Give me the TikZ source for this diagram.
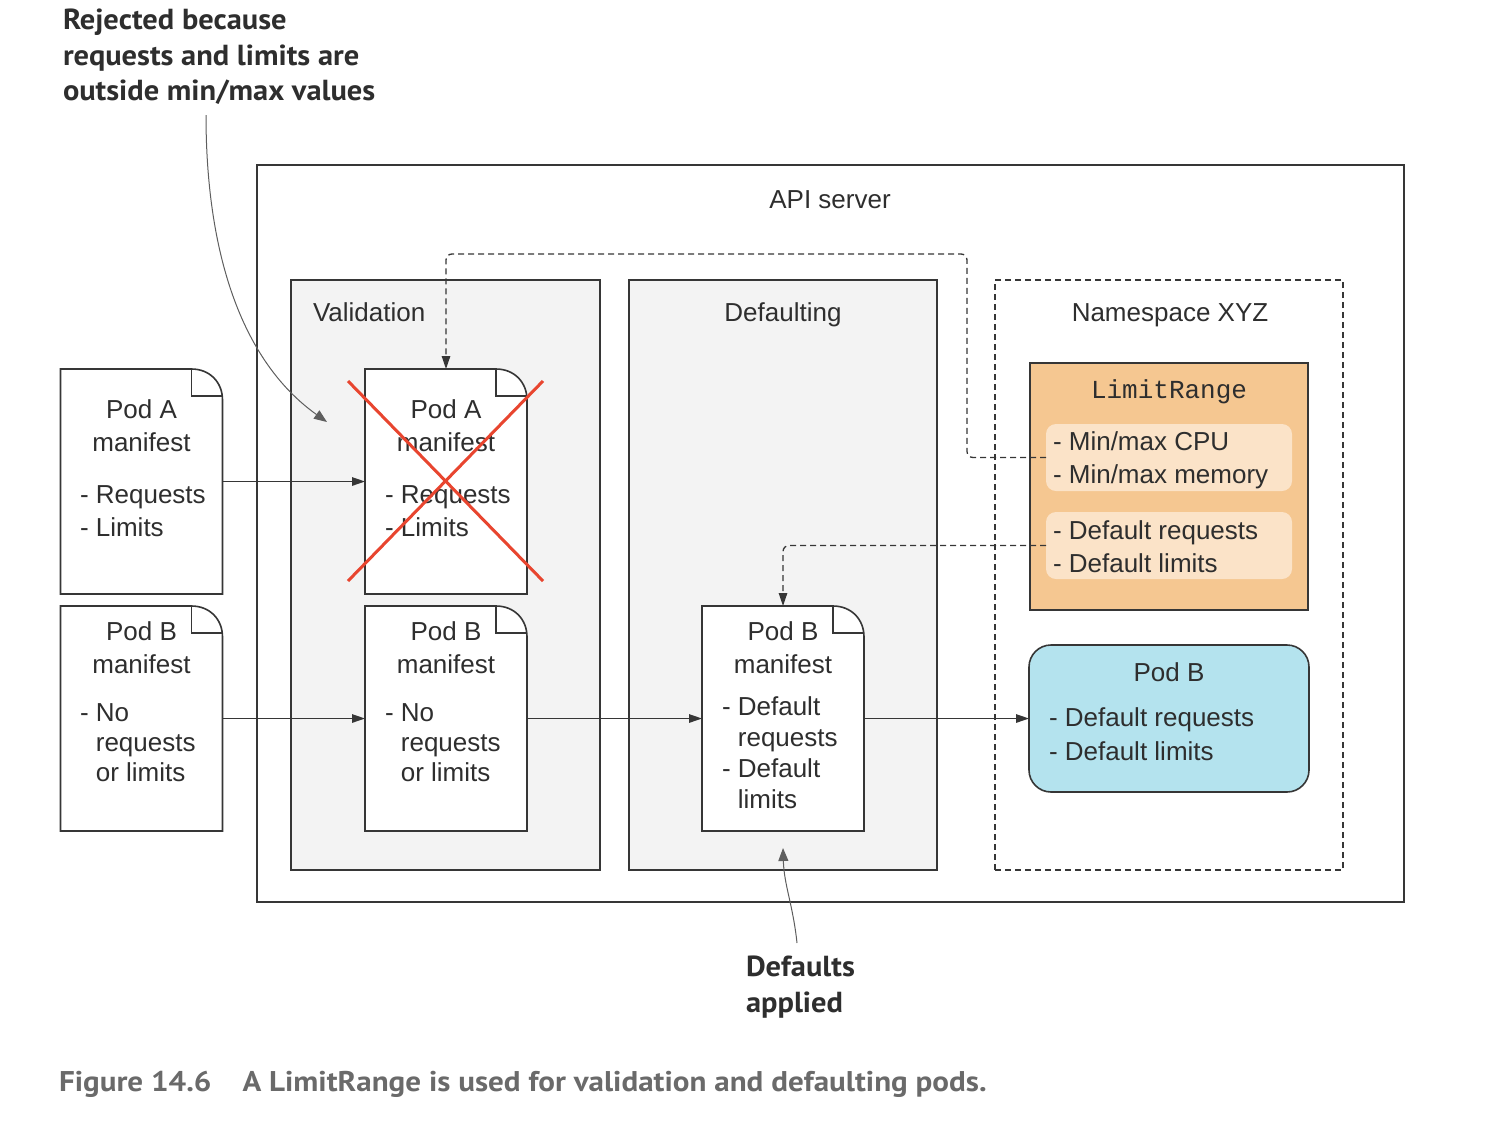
\documentclass[tikz,border=0pt]{standalone}
\usepackage{fontspec}
\setmainfont{Liberation Sans}
\newfontfamily\monof{Liberation Mono}
\newfontfamily\annof[FakeStretch=1.05]{PT Sans}
\newfontfamily\capf[FakeStretch=1.09]{PT Sans}
\usetikzlibrary{arrows.meta}
\definecolor{ink}{HTML}{2E2E2E}
\definecolor{line}{HTML}{363636}
\definecolor{panelgray}{HTML}{F3F3F3}
\definecolor{lrfill}{HTML}{F5C791}
\definecolor{lrinner}{HTML}{FBE3C8}
\definecolor{podblue}{HTML}{B4E3EE}
\definecolor{xred}{HTML}{E8452F}
\definecolor{capgray}{HTML}{6A6A6A}
\newcommand\docoutline[1]{%
  \draw[frame,fill=white] (#1.south west) -- (#1.north west) -- ([xshift=-31pt]#1.north east)
    .. controls ([xshift=-13pt]#1.north east) and ([yshift=-13pt]#1.north east) .. ([yshift=-31pt]#1.north east)
    -- (#1.south east) -- cycle;
  \draw[frame] ([xshift=-31pt]#1.north east) -- ([xshift=-31pt,yshift=-27pt]#1.north east) -- ([xshift=-1pt,yshift=-27pt]#1.north east);}
\begin{document}
\begin{tikzpicture}[x=1pt,y=-1pt,
  every node/.style={inner sep=0pt,outer sep=0pt},
  frame/.style={draw=line,line width=1.6pt},
  panel/.style={frame,fill=panelgray},
  conn/.style={draw=line,line width=1.3pt,-{Triangle[length=13pt,width=8.5pt]}},
  dconn/.style={conn,dash pattern=on 6pt off 4pt},
  note/.style={draw=line!80,line width=1pt,-{Triangle[length=13pt,width=10pt]}},
  txt/.style={text=ink,font=\fontsize{26}{33}\selectfont},
  lst/.style={text=ink,font=\fontsize{26}{30}\selectfont,align=left},
  docbox/.style={minimum width=162pt,minimum height=225pt},
  anno/.style={text=ink,font=\annof\bfseries\fontsize{29}{35.5}\selectfont,align=left}]
\useasboundingbox (0,0) rectangle (1506,1136);

% frames
\node[frame,minimum width=1147pt,minimum height=737pt] (api) at (830.5,533.5) {};
\node[panel,minimum width=309pt,minimum height=590pt] (val) at (445.5,575) {};
\node[panel,minimum width=308pt,minimum height=590pt] (def) at (783,575) {};
\node[frame,dash pattern=on 6pt off 4pt,line width=1.4pt,minimum width=348pt,minimum height=590pt] (ns) at (1169,575) {};
\node[frame,fill=lrfill,minimum width=278pt,minimum height=247pt] (lr) at (1169,486.5) {};
\node[fill=lrinner,rounded corners=10pt,minimum width=246pt,minimum height=67pt] (lr1) at (1169,457.5) {};
\node[fill=lrinner,rounded corners=10pt,minimum width=246pt,minimum height=67pt] (lr2) at (1169,545.5) {};
\node[frame,fill=podblue,rounded corners=22pt,minimum width=280pt,minimum height=147pt] (pbb) at (1169,718.5) {};

% headers
\node[txt,anchor=base] (apit) at (830,208.5) {API server};
\node[txt,anchor=base west] (valt) at (313,321.5) {Validation};
\node[txt,anchor=base] (deft) at (783,321.5) {Defaulting};
\node[txt,anchor=base] (nst) at (1170,321.5) {Namespace XYZ};
\node[text=ink,font=\monof\fontsize{26}{30}\selectfont,anchor=base] (lrt) at (1169,398) {LimitRange};
\node[lst,font=\fontsize{26}{33}\selectfont,anchor=west] (lr1t) at (1053,460) {- Min/max CPU\\- Min/max memory};
\node[lst,font=\fontsize{26}{33}\selectfont,anchor=west] (lr2t) at (1053,546.5) {- Default requests\\- Default limits};
\node[txt] (pbbt) at (1169,672) {Pod B};
\node[lst,font=\fontsize{26}{34}\selectfont,anchor=west] (pbbl) at (1049,734) {- Default requests\\- Default limits};

% documents
\node[docbox] (la) at (141.5,481.5) {};
\node[docbox] (lb) at (141.5,718.5) {};
\node[docbox] (ma) at (446,481.5) {};
\node[docbox] (mb) at (446,718.5) {};
\node[docbox] (rb) at (783,718.5) {};
\docoutline{la}\docoutline{lb}\docoutline{ma}\docoutline{mb}\docoutline{rb}

\node[txt,align=center,anchor=north] (lat) at (141.5,400) {Pod A\\manifest};
\node[lst,font=\fontsize{26}{33}\selectfont,anchor=north west] (lal) at (80,486) {- Requests\\- Limits};
\node[txt,align=center,anchor=north] (mat) at (446,400) {Pod A\\manifest};
\node[lst,font=\fontsize{26}{33}\selectfont,anchor=north west] (mal) at (385,486) {- Requests\\- Limits};

\node[txt,align=center,anchor=north] (lbt) at (141.5,621.5) {Pod B\\manifest};
\node[lst,anchor=north west] (lbl) at (80,704) {- No\\\hphantom{- }requests\\\hphantom{- }or limits};
\node[txt,align=center,anchor=north] (mbt) at (446,621.5) {Pod B\\manifest};
\node[lst,anchor=north west] (mbl) at (385,704) {- No\\\hphantom{- }requests\\\hphantom{- }or limits};
\node[txt,align=center,anchor=north] (rbt) at (783,621.5) {Pod B\\manifest};
\node[lst,font=\fontsize{26}{31}\selectfont,anchor=north west] (rbl) at (722,696.5) {- Default\\\hphantom{- }requests\\- Default\\\hphantom{- }limits};

% red cross
\draw[xred,line width=3pt] ([xshift=-17pt,yshift=-12pt]ma.north west) -- ([xshift=16pt,yshift=13pt]ma.south east);
\draw[xred,line width=3pt] ([xshift=16pt,yshift=-12pt]ma.north east) -- ([xshift=-17pt,yshift=13pt]ma.south west);

% connectors
\draw[conn] (la.east) -- (ma.west);
\draw[conn] (lb.east) -- (mb.west);
\draw[conn] (mb.east) -- (rb.west);
\draw[conn] (rb.east) -- (pbb.west);
\coordinate (c1) at (967,254);
\draw[dconn,rounded corners=6pt] (lr1.west) -| (c1) -| (ma.north);
\draw[dconn,rounded corners=6pt] (lr2.west) -| (rb.north);

% annotations
\node[anno,anchor=north west] (rej) at (63,9) {Rejected because\\requests and limits are\\outside min/max values};
\coordinate (rejtail) at (206,115);
\coordinate (rejhead) at (327,422);
\draw[note] (rejtail) .. controls (206,250) and (240,360) .. (rejhead);
\node[anno,anchor=north west] (dapp) at (746,956) {Defaults\\applied};
\coordinate (daptail) at (797,943);
\coordinate (daphead) at (783,848);
\draw[note] (daptail) .. controls (793,905) and (784,885) .. (daphead);

% caption
\node[anchor=west,text=capgray,font=\capf\bfseries\fontsize{28.5}{30}\selectfont] (cap) at (59,1084) {Figure 14.6\hspace{31pt}A LimitRange is used for validation and defaulting pods.};
\end{tikzpicture}
\end{document}
